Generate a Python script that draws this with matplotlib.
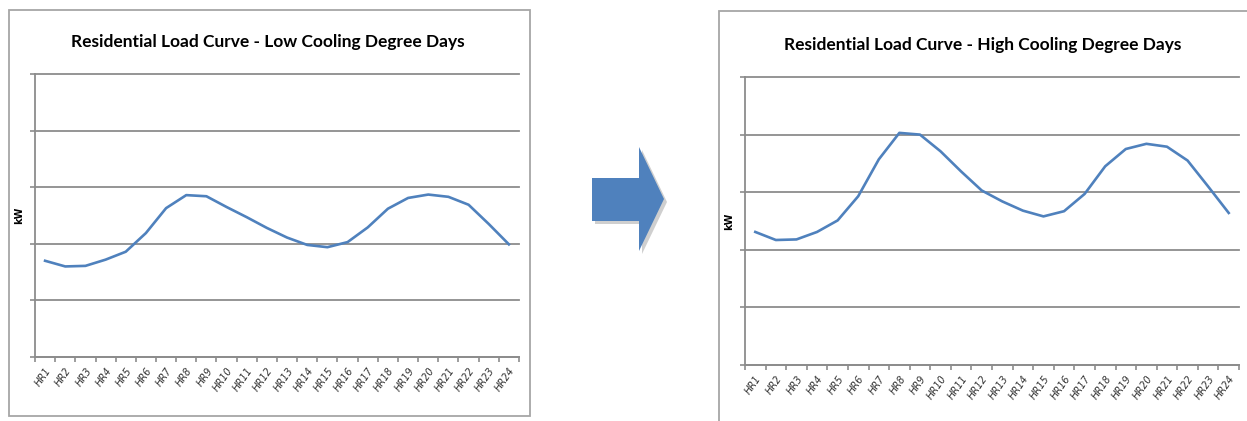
import matplotlib
matplotlib.use("Agg")
import matplotlib.pyplot as plt
from matplotlib.patches import Rectangle, Polygon

hours = ["HR%d" % i for i in range(1, 25)]

# kW by hour, low cooling degree days
low_cdd = [1.70, 1.60, 1.61, 1.72, 1.86, 2.19, 2.63, 2.86, 2.84, 2.65, 2.47, 2.28,
           2.11, 1.98, 1.94, 2.03, 2.29, 2.62, 2.81, 2.87, 2.83, 2.69, 2.35, 1.99]

# kW by hour, high cooling degree days
high_cdd = [2.31, 2.17, 2.18, 2.31, 2.51, 2.93, 3.57, 4.03, 4.00, 3.71, 3.36, 3.03,
            2.84, 2.68, 2.58, 2.67, 2.97, 3.45, 3.75, 3.84, 3.79, 3.55, 3.10, 2.64]

titles = ["Residential Load Curve - Low Cooling Degree Days",
          "Residential Load Curve - High Cooling Degree Days"]

W, H = 1247, 421
LINE = "#4f81bd"
GRID = "#8c8c8c"


def px(x0, y0, x1, y1):
    # pixel box (top-left origin) -> figure fraction rect
    return [x0 / W, 1 - y1 / H, (x1 - x0) / W, (y1 - y0) / H]


def load_chart(ax, values, title, tx, ty):
    xs = [i + 0.5 for i in range(len(values))]
    ax.plot(xs, values, color=LINE, lw=1.9, solid_joinstyle="round")
    ax.set_xlim(0, 24)
    ax.set_ylim(0, 5)
    ax.set_yticks(range(6))
    ax.set_yticklabels([])
    ax.yaxis.grid(True, color=GRID, lw=1.3)
    for gl in ax.get_ygridlines():
        gl.set_clip_on(False)
    ax.set_axisbelow(True)
    ax.set_xticks(range(25))
    ax.set_xticklabels([])
    ax.set_xticks(xs, minor=True)
    ax.set_xticklabels(hours, minor=True, rotation=55, ha="right",
                       rotation_mode="anchor", fontsize=7, color="#333333",
                       fontstyle="italic")
    ax.tick_params(axis="x", which="minor", length=0, pad=6)
    ax.tick_params(axis="both", which="major", direction="out", length=3.5,
                   color=GRID, width=1.2)
    for s in ["top", "right"]:
        ax.spines[s].set_visible(False)
    for s in ["left", "bottom"]:
        ax.spines[s].set_color(GRID)
        ax.spines[s].set_linewidth(1.3)
    ax.set_ylabel("kW", fontsize=7, fontweight="bold", labelpad=1)
    fig.text(tx / W, 1 - ty / H, title, ha="center", va="baseline",
             fontsize=12.5, fontweight="bold", family="Lato")


fig = plt.figure(figsize=(W / 100, H / 100), dpi=100)

# chart frames
fig.patches.append(Rectangle((9 / W, 1 - 416 / H), 521 / W, 406 / H,
                             transform=fig.transFigure, fill=False,
                             ec="#a6a6a6", lw=1.3))
fig.patches.append(Rectangle((719 / W, -0.05), 0.5, 1 - 11 / H + 0.05,
                             transform=fig.transFigure, fill=False,
                             ec="#a6a6a6", lw=1.3))

ax1 = fig.add_axes(px(35, 74, 519, 357))
load_chart(ax1, low_cdd, titles[0], 268, 47)

ax2 = fig.add_axes(px(745, 77, 1239, 365))
load_chart(ax2, high_cdd, titles[1], 983, 50)

# block arrow between the charts, with a soft shadow
arrow = [(592, 178), (639, 178), (639, 147), (664, 199), (639, 251),
         (639, 221), (592, 221)]
shadow = [(x + 3, y + 3) for x, y in arrow]
fig.patches.append(Polygon([(x / W, 1 - y / H) for x, y in shadow], closed=True,
                           transform=fig.transFigure, fc="#b0b0b0", ec="none",
                           alpha=0.6))
fig.patches.append(Polygon([(x / W, 1 - y / H) for x, y in arrow], closed=True,
                           transform=fig.transFigure, fc=LINE, ec="none"))

fig.savefig("out.png", dpi=100)
